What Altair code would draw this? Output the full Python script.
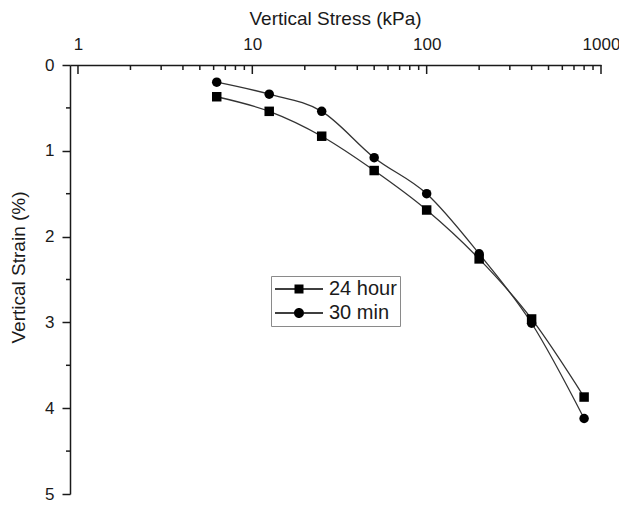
import altair as alt
import pandas as pd

# ---- data ----
stress = [6.25, 12.5, 25, 50, 100, 200, 400, 800]
strain_24h = [0.37, 0.54, 0.83, 1.23, 1.69, 2.26, 2.96, 3.87]
strain_30min = [0.20, 0.34, 0.54, 1.08, 1.50, 2.20, 3.01, 4.12]
series_names = ["24 hour", "30 min"]

x_ticks_major = [1, 10, 100, 1000]
x_ticks_minor = [2, 3, 4, 5, 6, 7, 8, 9,
                 20, 30, 40, 50, 60, 70, 80, 90,
                 200, 300, 400, 500, 600, 700, 800, 900]
y_ticks_major = [0, 1, 2, 3, 4, 5]
y_ticks_minor = [0.5, 1.5, 2.5, 3.5, 4.5]

df = pd.DataFrame({
    "stress": stress + stress,
    "strain": strain_24h + strain_30min,
    "series": [series_names[0]] * len(stress) + [series_names[1]] * len(stress),
})
df_xmaj = pd.DataFrame({"v": x_ticks_major})
df_xmin = pd.DataFrame({"v": x_ticks_minor})
df_ymin = pd.DataFrame({"v": y_ticks_minor})

FONT = "Liberation Sans"
INK = "#1a1a1a"

xscale = alt.Scale(type="log", domain=[0.9, 1000], nice=False)
yscale = alt.Scale(domain=[0, 5], reverse=True, nice=False, zero=False)

x_axis = alt.Axis(
    orient="top", values=x_ticks_major, format="d", ticks=False, grid=False,
    labelFlush=False,
    title="Vertical Stress (kPa)", titleX=265, titleY=-47, titleBaseline="middle",
    titleFont=FONT, titleFontSize=19, titleFontWeight="normal", titleColor=INK,
    labelFont=FONT, labelFontSize=17, labelColor=INK, labelPadding=12,
    domainColor=INK, domainWidth=1.5,
)
y_axis = alt.Axis(
    orient="left", values=y_ticks_major, format="d", grid=False,
    labelFlush=False,
    tickSize=8, tickWidth=1.5, tickColor=INK,
    title="Vertical Strain (%)", titleX=-52, titleY=202, titleBaseline="middle",
    titleAngle=-90,
    titleFont=FONT, titleFontSize=19, titleFontWeight="normal", titleColor=INK,
    labelFont=FONT, labelFontSize=17, labelColor=INK, labelPadding=8,
    domainColor=INK, domainWidth=1.5,
)

X = alt.X("stress:Q", scale=xscale, axis=x_axis)
Y = alt.Y("strain:Q", scale=yscale, axis=y_axis)

base = alt.Chart(df)

lines = base.mark_line(interpolate="monotone", color="#333333", strokeWidth=1.3).encode(
    x=X, y=Y, detail="series:N"
)

points = base.mark_point(filled=True, color="black", size=90, opacity=1).encode(
    x=X, y=Y,
    shape=alt.Shape("series:N",
                    scale=alt.Scale(domain=series_names, range=["square", "circle"]),
                    legend=None),
)

# legend glyphs: thin filled bars left/right of a filled marker
path_sq = ("M-1.8,-0.13H2.1V0.13H-1.8Z"
           "M3.9,-0.13H7.8V0.13H3.9Z"
           "M2.1,-0.9H3.9V0.9H2.1Z")
path_ci = ("M-1.8,-0.13H2.0V0.13H-1.8Z"
           "M4.0,-0.13H7.8V0.13H4.0Z"
           "M4.0,0A1,1,0,1,1,2.0,0A1,1,0,1,1,4.0,0Z")

legend_layer = base.transform_filter("false").mark_point(
    filled=True, color="black", size=100
).encode(
    x=X, y=Y,
    shape=alt.Shape("series:N",
                    scale=alt.Scale(domain=series_names, range=[path_sq, path_ci]),
                    legend=alt.Legend(
                        title=None, orient="none", legendX=201, legendY=211,
                        strokeColor="#8a8a8a", padding=3, rowPadding=4,
                        labelFont=FONT, labelFontSize=20, labelColor=INK,
                        labelOffset=35, labelLimit=0,
                        symbolSize=100, symbolFillColor="black",
                        symbolOpacity=1,
                    )),
)

xmaj = alt.Chart(df_xmaj).mark_rule(color=INK, strokeWidth=1.5).encode(
    x=alt.X("v:Q", scale=xscale, axis=x_axis), y=alt.value(0), y2=alt.value(9)
)
xmin = alt.Chart(df_xmin).mark_rule(color=INK, strokeWidth=1.5).encode(
    x=alt.X("v:Q", scale=xscale, axis=x_axis), y=alt.value(0), y2=alt.value(5)
)
ymin = alt.Chart(df_ymin).mark_rule(color=INK, strokeWidth=1.5).encode(
    y=alt.Y("v:Q", scale=yscale, axis=y_axis), x=alt.value(-4), x2=alt.value(0)
)

chart = alt.layer(lines, points, legend_layer, xmaj, xmin, ymin).resolve_scale(
    shape="independent"
).properties(
    width=531, height=429,
    autosize=alt.AutoSizeParams(type="none"),
    padding={"left": 62, "top": 57, "right": 18, "bottom": 10},
).configure_view(stroke=None)

chart.save("out.html", embed_options={"renderer": "svg", "actions": False})
